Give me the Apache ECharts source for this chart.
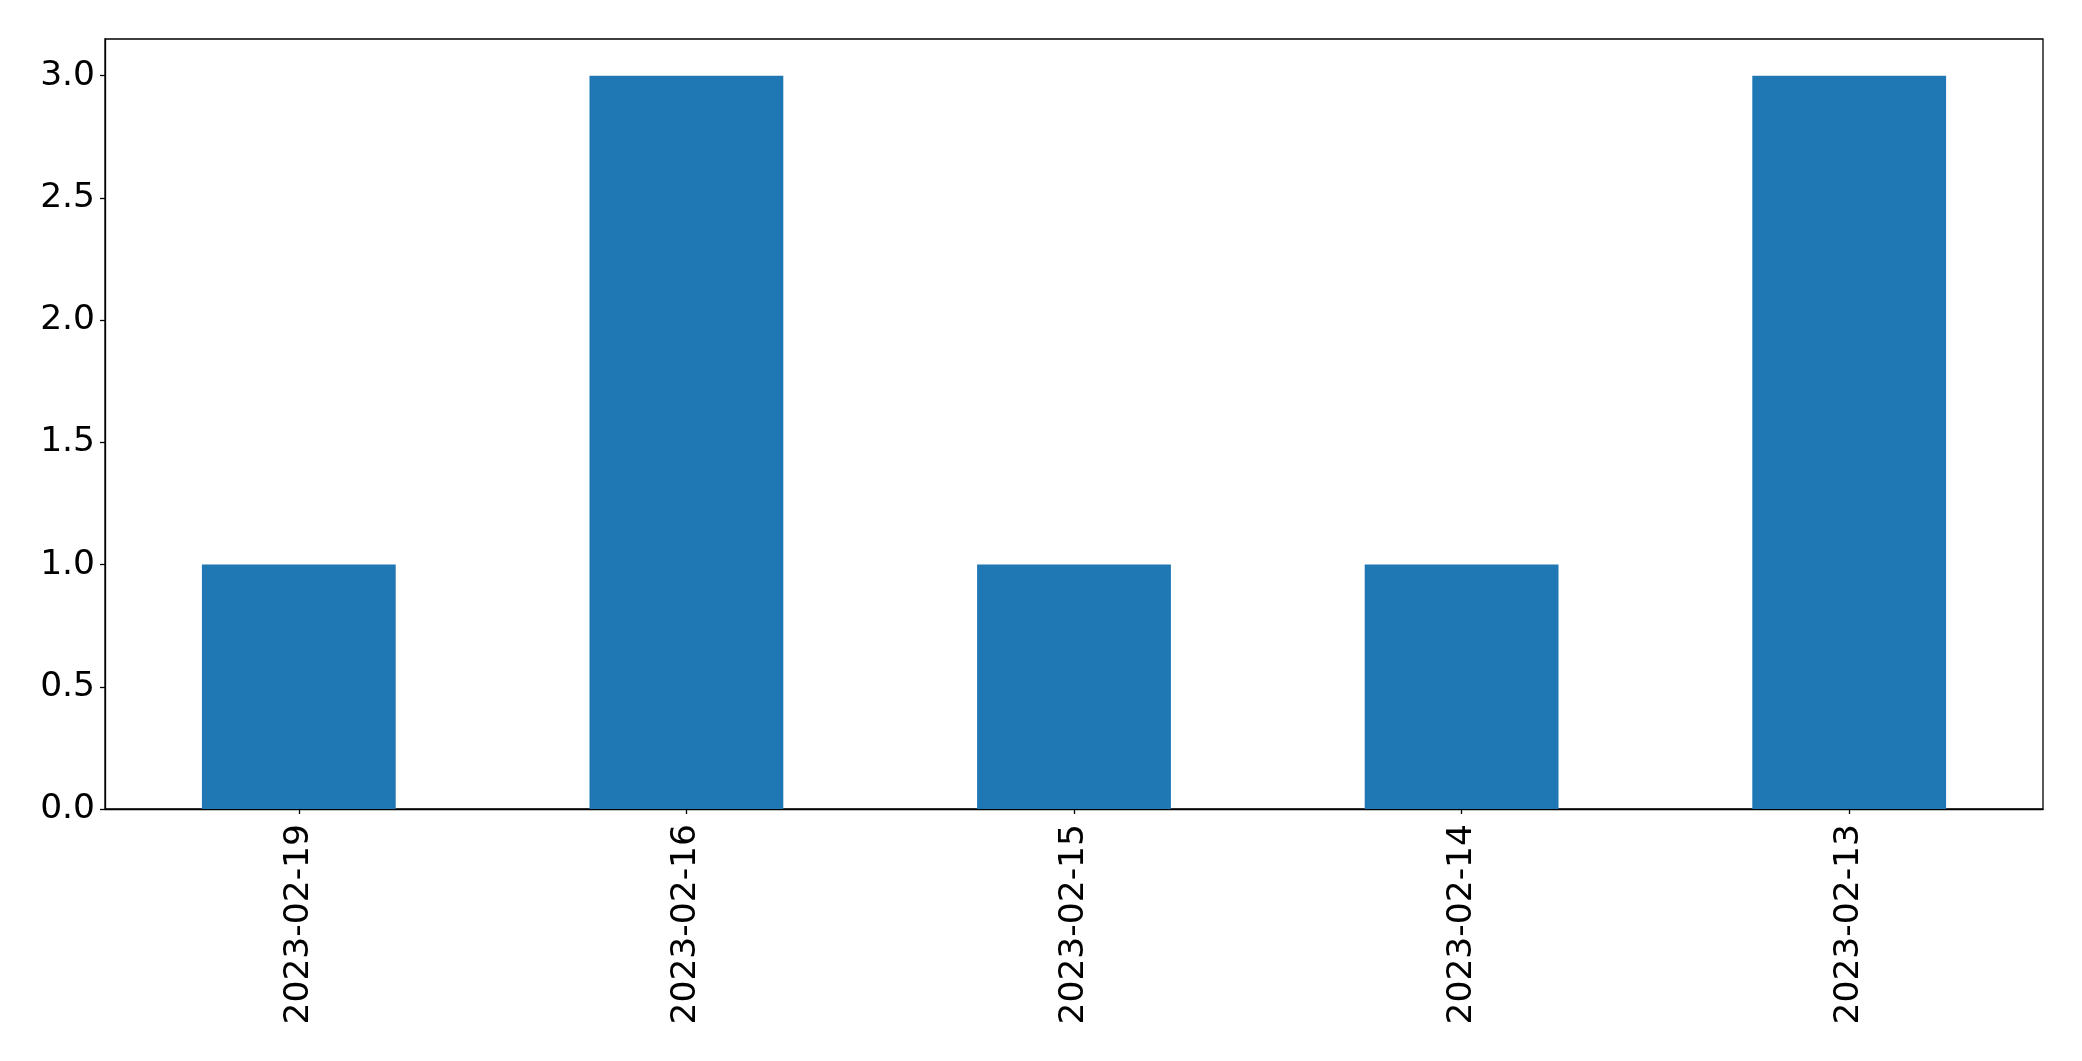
<!DOCTYPE html>
<html>
<head>
<meta charset="utf-8">
<script src="https://cdn.jsdelivr.net/npm/echarts@6/dist/echarts.min.js"></script>
<style>
html,body{margin:0;padding:0;background:#fff;}
#chart{width:2082px;height:1061px;}
</style>
</head>
<body>
<div id="chart"></div>
<script>
const categories = ["2023-02-19", "2023-02-16", "2023-02-15", "2023-02-14", "2023-02-13"];
const values = [1, 3, 1, 1, 3];
const yTicks = [0, 0.5, 1.0, 1.5, 2.0, 2.5, 3.0];

const chart = echarts.init(document.getElementById('chart'), null, {renderer: 'canvas'});
const font = 'DejaVu Sans';
chart.setOption({
  animation: false,
  backgroundColor: '#ffffff',
  grid: {
    left: 105, right: 39, top: 39, bottom: 252,
    show: true, borderColor: '#000', borderWidth: 1.3, backgroundColor: 'transparent'
  },
  xAxis: {
    type: 'category',
    data: categories,
    boundaryGap: true,
    axisLine: {show: true, lineStyle: {color: '#000', width: 1.3}},
    axisTick: {show: true, alignWithLabel: true, length: 5, lineStyle: {color: '#000', width: 1.3}},
    axisLabel: {rotate: 90, color: '#000', fontFamily: font, fontSize: 34.5, margin: 15, interval: 0},
    splitLine: {show: false}
  },
  yAxis: {
    type: 'value',
    min: 0, max: 3.15,
    axisLine: {show: true, lineStyle: {color: '#000', width: 1.3}},
    axisTick: {show: true, length: 5, lineStyle: {color: '#000', width: 1.3}, customValues: yTicks},
    axisLabel: {color: '#000', fontFamily: font, fontSize: 34.5, margin: 10, customValues: yTicks,
      padding: [5, 0, 0, 0],
      formatter: v => v.toFixed(1)},
    splitLine: {show: false}
  },
  series: [{
    type: 'bar',
    data: values,
    barWidth: '50%',
    itemStyle: {color: '#1f77b4'}
  }]
});
</script>
</body>
</html>
